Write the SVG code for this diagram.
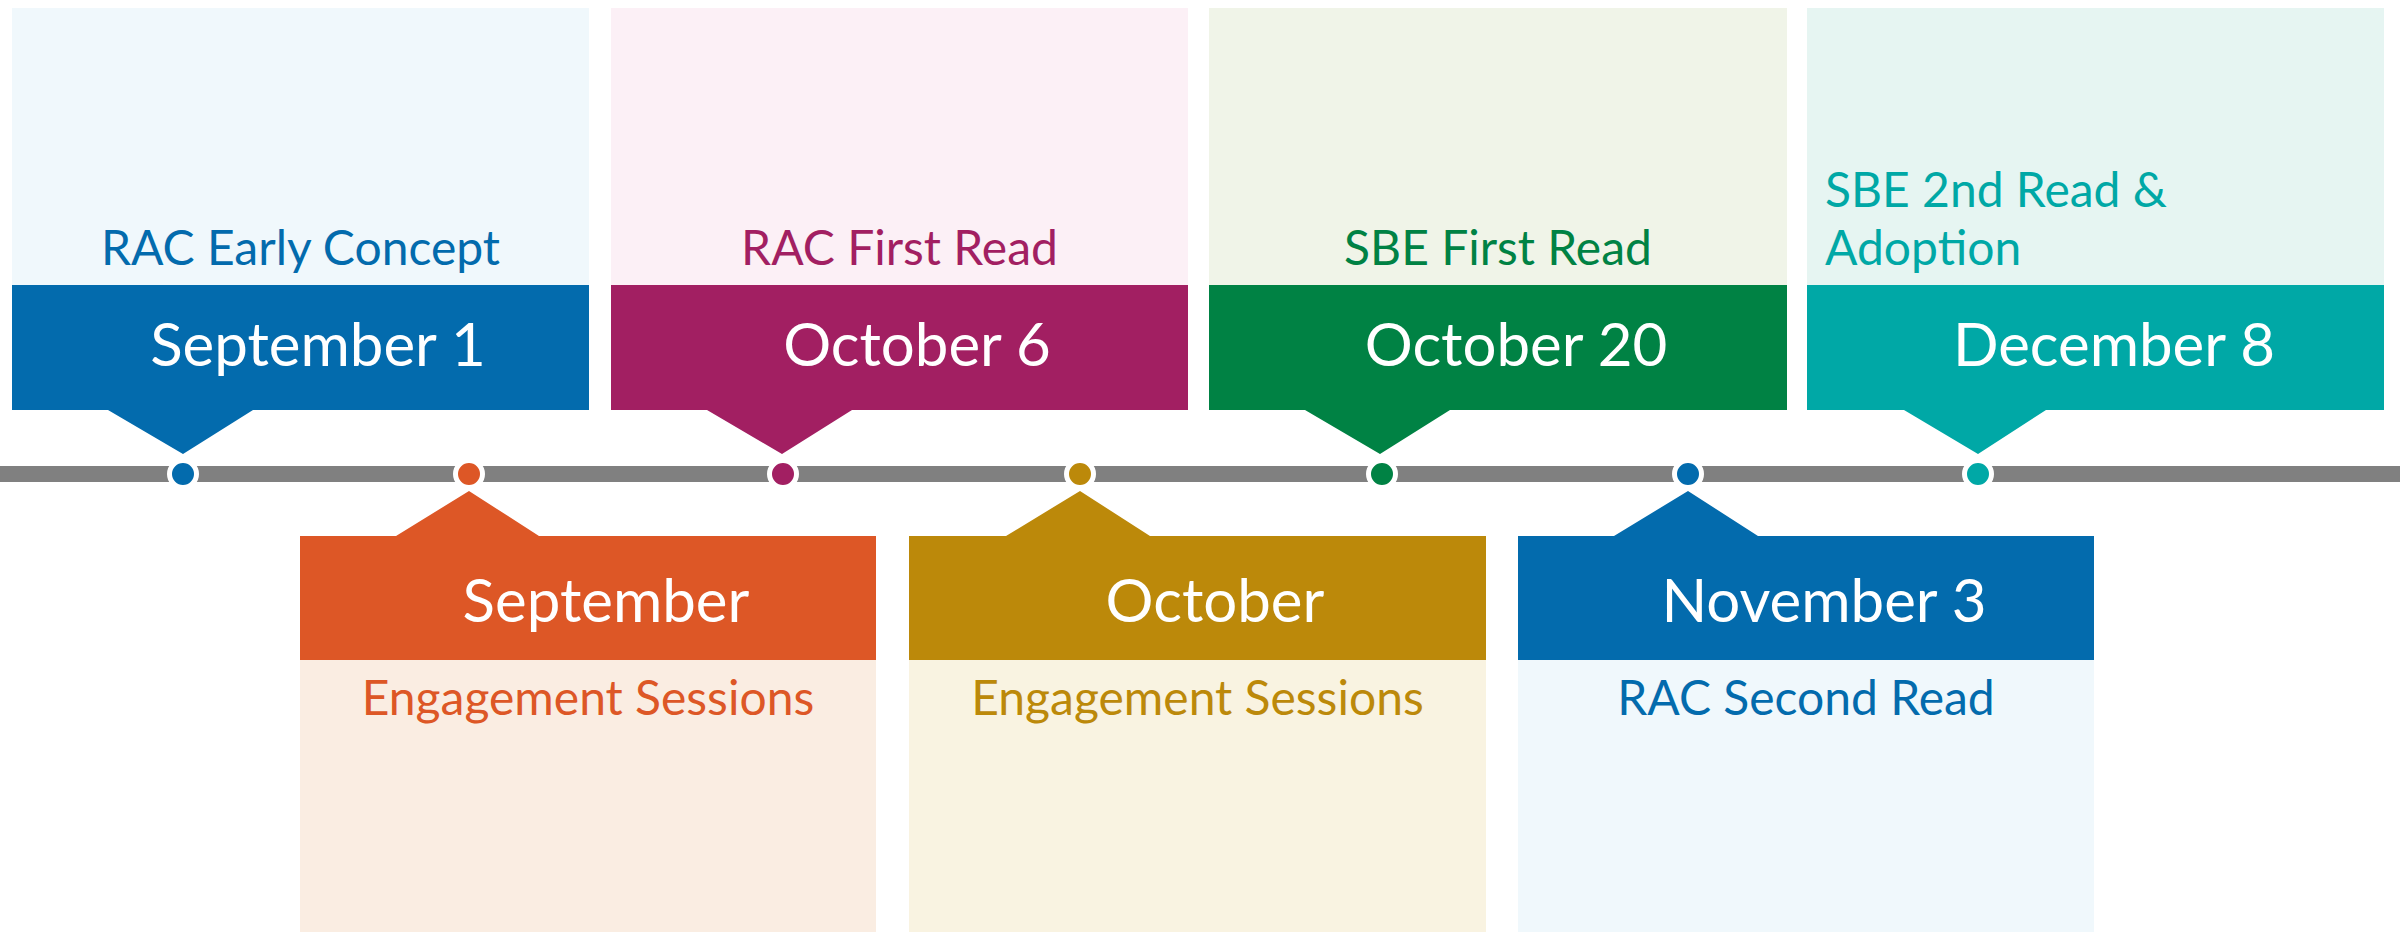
<svg xmlns="http://www.w3.org/2000/svg" width="2400" height="934" viewBox="0 0 2400 934">
<style>
.date{font-family:Lato,"Open Sans","Liberation Sans",sans-serif;font-size:60px;fill:#ffffff;text-anchor:middle}
.desc{font-family:Lato,"Open Sans","Liberation Sans",sans-serif;font-size:48px;text-anchor:middle}
.dot{stroke:#ffffff;stroke-width:5}
</style>
<rect width="2400" height="934" fill="#ffffff"/>
<g id="connectors">
<rect x="0" y="466" width="2400" height="16" fill="#808080"/>
</g>
<g id="sep1">
<rect x="12" y="8" width="577" height="277" fill="#F0F8FC"/>
<path d="M12,285H589V410H253L183,454L108,410H12Z" fill="#036BAD"/>
<text class="desc" x="300.5" y="265" fill="#036BAD">RAC Early Concept</text>
<text class="date" x="318" y="366">September 1</text>
<circle class="dot" cx="183" cy="474" r="13.5" fill="#036BAD"/>
</g>
<g id="oct6">
<rect x="611" y="8" width="577" height="277" fill="#FCF0F6"/>
<path d="M611,285H1188V410H852L782,454L707,410H611Z" fill="#A21F62"/>
<text class="desc" x="899.5" y="265" fill="#A21F62">RAC First Read</text>
<text class="date" x="917" y="366">October 6</text>
<circle class="dot" cx="783" cy="474" r="13.5" fill="#A21F62"/>
</g>
<g id="oct20">
<rect x="1209" y="8" width="578" height="277" fill="#F0F4E8"/>
<path d="M1209,285H1787V410H1450L1380,454L1305,410H1209Z" fill="#008244"/>
<text class="desc" x="1498" y="265" fill="#008244">SBE First Read</text>
<text class="date" x="1516" y="366">October 20</text>
<circle class="dot" cx="1382" cy="474" r="13.5" fill="#008244"/>
</g>
<g id="dec8">
<rect x="1807" y="8" width="577" height="277" fill="#E6F5F2"/>
<path d="M1807,285H2384V410H2046L1978,454L1904,410H1807Z" fill="#00A8A6"/>
<text class="desc" x="1825" y="207" fill="#00A8A6" style="text-anchor:start">SBE 2nd Read &amp;</text>
<text class="desc" x="1825" y="265" fill="#00A8A6" style="text-anchor:start">Adoption</text>
<text class="date" x="2114" y="366">December 8</text>
<circle class="dot" cx="1978" cy="474" r="13.5" fill="#00A8A6"/>
</g>
<g id="sep">
<rect x="300" y="660" width="576" height="272" fill="#FAEDE2"/>
<path d="M300,536H396L469,491L539,536H876V660H300Z" fill="#DD5726"/>
<text class="date" x="606" y="622">September</text>
<text class="desc" x="588" y="715" fill="#DD5726">Engagement Sessions</text>
<circle class="dot" cx="469" cy="474" r="13.5" fill="#DD5726"/>
</g>
<g id="oct">
<rect x="909" y="660" width="577" height="272" fill="#F9F3E1"/>
<path d="M909,536H1006L1080,491L1150,536H1486V660H909Z" fill="#BC890A"/>
<text class="date" x="1215" y="622">October</text>
<text class="desc" x="1197.5" y="715" fill="#BC890A">Engagement Sessions</text>
<circle class="dot" cx="1080" cy="474" r="13.5" fill="#BC890A"/>
</g>
<g id="nov3">
<rect x="1518" y="660" width="576" height="272" fill="#F0F8FC"/>
<path d="M1518,536H1614L1688,491L1758,536H2094V660H1518Z" fill="#036BAD"/>
<text class="date" x="1824" y="622">November 3</text>
<text class="desc" x="1806" y="715" fill="#036BAD">RAC Second Read</text>
<circle class="dot" cx="1688" cy="474" r="13.5" fill="#036BAD"/>
</g>
</svg>
